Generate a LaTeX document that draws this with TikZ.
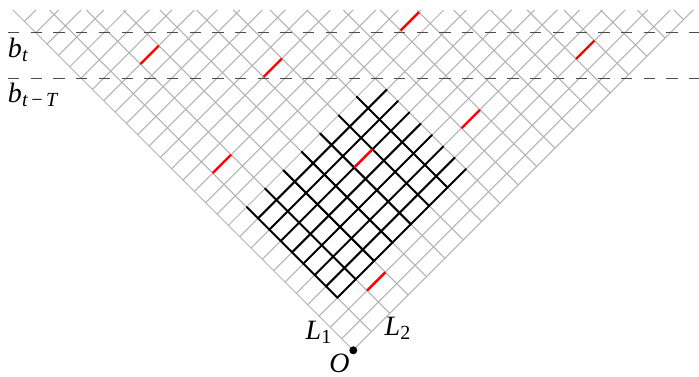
\documentclass[tikz,border=0pt]{standalone}
\usepackage{fontspec}
\setmainfont{Liberation Serif}
\newcommand{\lblfont}{\fontsize{28}{30}\selectfont\itshape}
\newcommand{\subfont}{\fontsize{20}{22}\selectfont}
\newcommand{\lowered}[1]{\raisebox{-4.2pt}{\subfont #1}}
\tikzset{
  gridline/.style={draw=black!30,line width=1.05pt},
  boldline/.style={draw=black,line width=2pt},
  redline/.style={draw=red,line width=2.4pt},
  levelline/.style={draw=black!70,line width=1pt,dash pattern=on 11.3pt off 11.4pt},
  lbl/.style={anchor=base west,inner sep=0pt,outer sep=0pt,text=black,font=\lblfont}
}
\begin{document}
\begin{tikzpicture}[x=1pt,y=1pt]
\useasboundingbox (0,0) rectangle (699,-376);
\begin{scope}[shift={(353,-350)},x={(-11.33pt,11.33pt)},y={(18.36pt,18.36pt)}]
  \foreach \k in {0,...,30}{
    \pgfmathsetmacro{\e}{(340-11.33*\k)/18.36}
    \draw[gridline] (\k,0) -- (\k,\e);
  }
  \foreach \k in {0,...,18}{
    \pgfmathsetmacro{\e}{(340-18.36*\k)/11.33}
    \draw[gridline] (0,\k) -- (\e,\k);
  }
\end{scope}
\coordinate (a1) at (8,-32.5); \coordinate (a2) at (699,-32.5);
\coordinate (b1) at (8,-78); \coordinate (b2) at (699,-78);
\draw[levelline] (a1) -- (a2);
\draw[levelline] (b1) -- (b2);
\begin{scope}[shift={(353,-350)},x={(-11.33pt,11.33pt)},y={(18.36pt,18.36pt)}]
  \foreach \k in {3,...,10} \draw[boldline,line cap=round] (\k,1) -- (\k,8);
  \foreach \k in {1,...,7} \draw[boldline,line cap=round] (3,\k) -- (11,\k);
  \foreach \u/\v in {2/2,8/5,5/9,14/1,22/2,16/5,12/10,3/14}
    \draw[redline] (\u,\v) -- (\u,\v+1);
\end{scope}
\node[lbl] (bt) at (8,-57.3) {b\lowered{t}};
\node[lbl] (btT) at (8,-102.3) {b\lowered{t\hspace{2.6pt}−\hspace{2.6pt}T}};
\node[lbl] (L1) at (305.7,-339.3) {L\lowered{\upshape 1}};
\node[lbl] (L2) at (384.7,-335) {L\lowered{\upshape 2}};
\node[lbl] (O) at (329.3,-372) {O};
\fill[black] (353.3,-350.3) circle (4);
\end{tikzpicture}
\end{document}
